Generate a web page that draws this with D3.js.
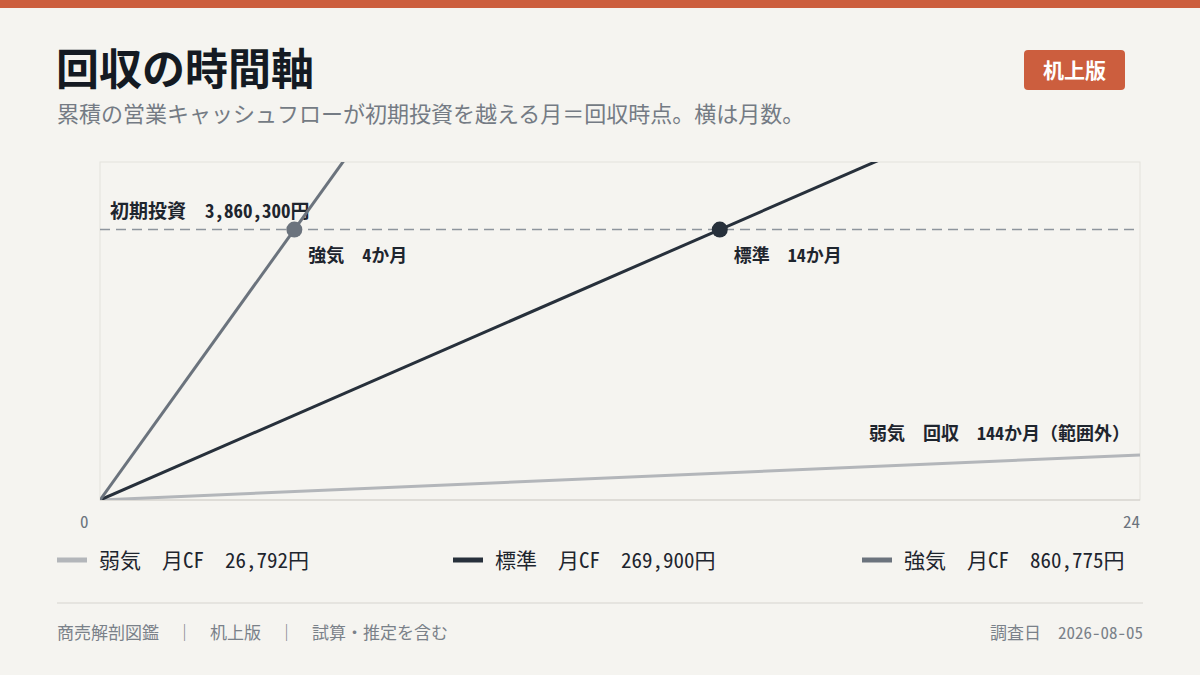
<!DOCTYPE html>
<html><head><meta charset="utf-8">
<script src="https://cdn.jsdelivr.net/npm/d3@7"></script>
<style>
body{margin:0;background:#f5f4f0;font-family:"Noto Sans CJK JP","Noto Sans",sans-serif;}
.m{font-family:"Noto Sans Mono CJK JP","Noto Sans CJK JP",monospace;}
</style></head><body>
<svg id="c" width="1200" height="675"></svg>
<script>
var investment = 3860300;
var scenarios = ['弱気', '標準', '強気'];
var monthlyCF = [26792, 269900, 860775];
var colors = ['#b3b6ba', '#27303b', '#6b737d'];
var months = [0, 24];
var payback = ['144', '14', '4'];

var svg = d3.select('#c');
svg.append('rect').attr('width', 1200).attr('height', 8).attr('fill', '#cc5e3e');
svg.append('text').attr('x', 56).attr('y', 85).attr('font-size', 43).attr('font-weight', 700)
    .attr('fill', '#141a22').text('回収の時間軸');
svg.append('text').attr('x', 57).attr('y', 122).attr('font-size', 22).attr('fill', '#747b84')
    .text('累積の営業キャッシュフローが初期投資を越える月＝回収時点。横は月数。');
svg.append('rect').attr('x', 1024).attr('y', 50).attr('width', 101).attr('height', 40).attr('rx', 4).attr('fill', '#cc5e3e');
svg.append('text').attr('x', 1074.5).attr('y', 78).attr('text-anchor', 'middle').attr('font-size', 21)
    .attr('font-weight', 700).attr('fill', '#fff').text('机上版');

var x = d3.scaleLinear().domain(months).range([100, 1140]);
var y = d3.scaleLinear().domain([0, investment * 1.25]).range([500, 162]);

svg.append('rect').attr('x', 100).attr('y', 162).attr('width', 1040).attr('height', 338)
    .attr('fill', 'none').attr('stroke', '#e4e2dc');
svg.append('defs').append('clipPath').attr('id', 'clip').append('rect')
    .attr('x', 100).attr('y', 162).attr('width', 1040).attr('height', 338);
svg.append('line').attr('x1', 100).attr('x2', 1140).attr('y1', 500).attr('y2', 500).attr('stroke', '#cfcdc8');

svg.append('line').attr('x1', x(0)).attr('x2', x(24)).attr('y1', y(investment)).attr('y2', y(investment))
    .attr('stroke', '#8e959d').attr('stroke-width', 1.5).attr('stroke-dasharray', '10,6');
svg.append('text').attr('class', 'm').attr('x', 110).attr('y', 218).attr('font-size', 19).attr('font-weight', 700)
    .attr('fill', '#1e252e').attr('xml:space', 'preserve').text('初期投資  ' + d3.format(',')(investment) + '円');

var g = svg.append('g').attr('clip-path', 'url(#clip)');
monthlyCF.forEach(function(cf, i) {
    g.append('line').attr('x1', x(0)).attr('y1', y(0)).attr('x2', x(24)).attr('y2', y(cf * 24))
        .attr('stroke', colors[i]).attr('stroke-width', 3);
});

// payback markers (strong, standard)
[2, 1].forEach(function(i) {
    var m = investment / monthlyCF[i];
    svg.append('circle').attr('cx', x(m)).attr('cy', y(investment)).attr('r', 8).attr('fill', colors[i]);
    svg.append('text').attr('class', 'm').attr('x', x(m) + 14).attr('y', y(investment) + 32).attr('font-size', 18)
        .attr('font-weight', 700).attr('fill', '#1e252e').attr('xml:space', 'preserve')
        .text(scenarios[i] + '  ' + payback[i] + 'か月');
});
svg.append('text').attr('class', 'm').attr('x', 1130).attr('y', 440).attr('text-anchor', 'end').attr('font-size', 18)
    .attr('font-weight', 700).attr('fill', '#1e252e').attr('xml:space', 'preserve')
    .text('弱気  回収  ' + payback[0] + 'か月（範囲外）');

svg.append('text').attr('class', 'm').attr('x', 80).attr('y', 528).attr('font-size', 17).attr('fill', '#6b737d').text('0');
svg.append('text').attr('class', 'm').attr('x', 1140).attr('y', 528).attr('text-anchor', 'end').attr('font-size', 17).attr('fill', '#6b737d').text('24');

var legX = [57, 453, 862];
scenarios.forEach(function(s, i) {
    svg.append('line').attr('x1', legX[i]).attr('x2', legX[i] + 30).attr('y1', 560).attr('y2', 560)
        .attr('stroke', colors[i]).attr('stroke-width', 5);
    svg.append('text').attr('class', 'm').attr('x', legX[i] + 42).attr('y', 568).attr('font-size', 21).attr('fill', '#1e252e')
        .attr('xml:space', 'preserve').text(s + '　月CF  ' + d3.format(',')(monthlyCF[i]) + '円');
});

svg.append('line').attr('x1', 57).attr('x2', 1143).attr('y1', 603).attr('y2', 603).attr('stroke', '#d6d4cf');
svg.append('text').attr('class', 'm').attr('x', 57).attr('y', 639).attr('font-size', 17).attr('fill', '#7a8189')
    .text('商売解剖図鑑　｜　机上版　｜　試算・推定を含む');
svg.append('text').attr('class', 'm').attr('x', 1143).attr('y', 639).attr('text-anchor', 'end').attr('font-size', 17).attr('fill', '#7a8189')
    .attr('xml:space', 'preserve').text('調査日  2026-08-05');
</script></body></html>
